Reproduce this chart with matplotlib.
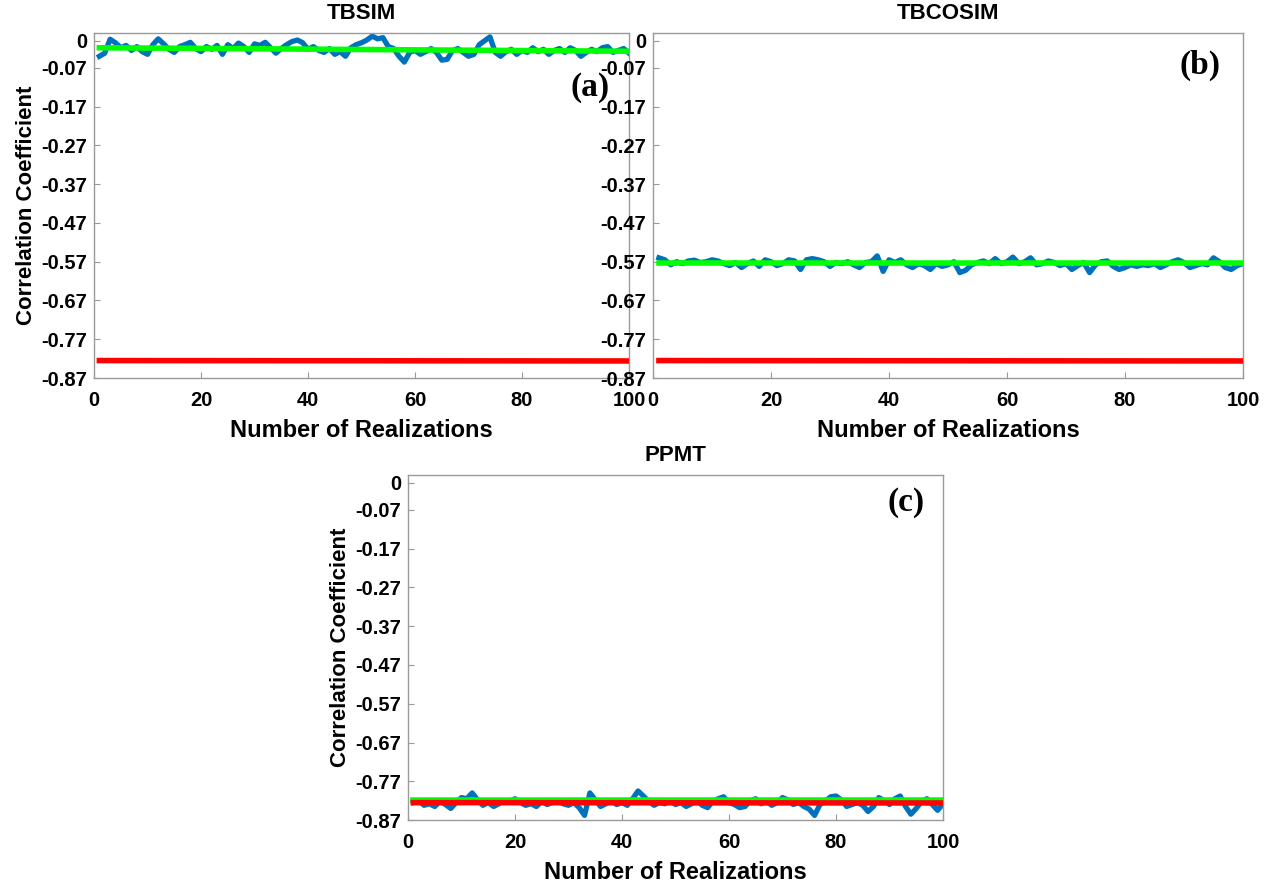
import matplotlib.pyplot as plt
import numpy as np

# realizations 1..100
realizations = np.arange(1, 101)

tbsim = [-0.040, -0.032, 0.004, -0.005, -0.018, -0.012, -0.025, -0.015, -0.028, -0.035,
         -0.010, 0.005, -0.008, -0.022, -0.030, -0.015, -0.010, -0.004, -0.020, -0.028,
         -0.015, -0.022, -0.012, -0.035, -0.010, -0.020, -0.006, -0.015, -0.030, -0.008,
         -0.012, -0.004, -0.018, -0.032, -0.020, -0.010, -0.002, 0.002, -0.005, -0.022,
         -0.015, -0.025, -0.030, -0.020, -0.035, -0.028, -0.040, -0.018, -0.010, -0.005,
         0.002, 0.012, 0.005, 0.008, -0.015, -0.020, -0.040, -0.055, -0.030, -0.025,
         -0.035, -0.028, -0.020, -0.030, -0.050, -0.048, -0.025, -0.020, -0.030, -0.040,
         -0.035, -0.010, 0.000, 0.010, -0.030, -0.040, -0.028, -0.022, -0.035, -0.025,
         -0.030, -0.018, -0.028, -0.022, -0.035, -0.025, -0.020, -0.030, -0.018, -0.025,
         -0.040, -0.030, -0.022, -0.028, -0.018, -0.015, -0.030, -0.025, -0.020, -0.032]

tbcosim = [-0.560, -0.565, -0.578, -0.570, -0.575, -0.568, -0.566, -0.572, -0.570, -0.565,
           -0.568, -0.575, -0.580, -0.572, -0.585, -0.575, -0.568, -0.582, -0.565, -0.570,
           -0.580, -0.575, -0.565, -0.568, -0.590, -0.565, -0.562, -0.565, -0.570, -0.582,
           -0.572, -0.575, -0.570, -0.578, -0.585, -0.572, -0.570, -0.555, -0.595, -0.565,
           -0.572, -0.565, -0.578, -0.585, -0.575, -0.580, -0.590, -0.575, -0.582, -0.578,
           -0.570, -0.598, -0.592, -0.578, -0.572, -0.568, -0.575, -0.562, -0.575, -0.570,
           -0.558, -0.575, -0.570, -0.560, -0.578, -0.575, -0.568, -0.572, -0.580, -0.575,
           -0.590, -0.580, -0.572, -0.598, -0.578, -0.570, -0.568, -0.582, -0.590, -0.585,
           -0.578, -0.582, -0.578, -0.580, -0.575, -0.585, -0.578, -0.570, -0.565, -0.572,
           -0.585, -0.580, -0.575, -0.578, -0.560, -0.570, -0.585, -0.590, -0.580, -0.575]

ppmt = [-0.825, -0.820, -0.832, -0.828, -0.835, -0.822, -0.830, -0.840, -0.825, -0.812,
        -0.815, -0.800, -0.818, -0.832, -0.825, -0.835, -0.828, -0.820, -0.822, -0.815,
        -0.825, -0.832, -0.828, -0.835, -0.822, -0.830, -0.825, -0.820, -0.828, -0.832,
        -0.825, -0.838, -0.858, -0.800, -0.818, -0.835, -0.828, -0.820, -0.830, -0.825,
        -0.832, -0.815, -0.795, -0.808, -0.822, -0.832, -0.825, -0.828, -0.820, -0.830,
        -0.825, -0.835, -0.828, -0.820, -0.832, -0.838, -0.822, -0.815, -0.810, -0.825,
        -0.830, -0.838, -0.835, -0.820, -0.815, -0.828, -0.822, -0.832, -0.825, -0.812,
        -0.818, -0.830, -0.825, -0.835, -0.842, -0.858, -0.830, -0.822, -0.810, -0.808,
        -0.818, -0.835, -0.830, -0.825, -0.832, -0.848, -0.835, -0.812, -0.820, -0.830,
        -0.815, -0.808, -0.835, -0.855, -0.840, -0.822, -0.815, -0.830, -0.845, -0.828]

# mean trend of each method (start, end) and the reference correlation
trend_tbsim = [-0.018, -0.027]
trend_tbcosim = [-0.573, -0.573]
trend_ppmt = [-0.818, -0.818]
reference_corr = [-0.825, -0.826]

yticks = [0, -0.07, -0.17, -0.27, -0.37, -0.47, -0.57, -0.67, -0.77, -0.87]
ytick_labels = ['0', '-0.07', '-0.17', '-0.27', '-0.37', '-0.47', '-0.57', '-0.67', '-0.77', '-0.87']
xticks = [0, 20, 40, 60, 80, 100]

plt.rcParams['font.family'] = ['Liberation Sans', 'DejaVu Sans']

fig = plt.figure(figsize=(12.69, 8.83), dpi=100)
ax_a = fig.add_axes([0.0741, 0.5719, 0.4216, 0.3907])
ax_b = fig.add_axes([0.5146, 0.5719, 0.4649, 0.3907])
ax_c = fig.add_axes([0.3215, 0.0713, 0.4216, 0.3907])

panels = [
    (ax_a, tbsim, trend_tbsim, 'TBSIM', '(a)', (0.927, 0.843), True),
    (ax_b, tbcosim, trend_tbcosim, 'TBCOSIM', '(b)', (0.927, 0.905), False),
    (ax_c, ppmt, trend_ppmt, 'PPMT', '(c)', (0.931, 0.919), True),
]

for ax, series, trend, title, tag, tagpos, show_ylabel in panels:
    ax.plot(realizations, series, color='#0072BD', lw=3.8, zorder=2)
    ax.plot([1, 100], trend, color='#00FF00', lw=4.0, zorder=3)
    ax.plot([1, 100], reference_corr, color='#FF0000', lw=4.0, zorder=4)

    ax.set_xlim(0, 100)
    ax.set_ylim(-0.87, 0.02)
    ax.set_xticks(xticks)
    ax.set_yticks(yticks)
    ax.set_yticklabels(ytick_labels)
    ax.tick_params(direction='in', length=4, color='#999999', labelsize=14.5)
    ax.tick_params(axis='x', pad=9)
    ax.tick_params(axis='y', pad=5)
    for lab in ax.get_xticklabels() + ax.get_yticklabels():
        lab.set_fontweight('bold')
    for sp in ax.spines.values():
        sp.set_color('#9a9a9a')
        sp.set_linewidth(1.0)

    ax.set_title(title, fontsize=16, fontweight='bold', pad=10)
    ax.set_xlabel('Number of Realizations', fontsize=17, fontweight='bold', labelpad=7)
    if show_ylabel:
        ax.set_ylabel('Correlation Coefficient', fontsize=16, fontweight='bold', labelpad=3)
    ax.text(tagpos[0], tagpos[1], tag, transform=ax.transAxes, ha='center', va='center',
            fontsize=24, fontweight='bold', family='Liberation Serif')

fig.savefig('out.png', dpi=100)
